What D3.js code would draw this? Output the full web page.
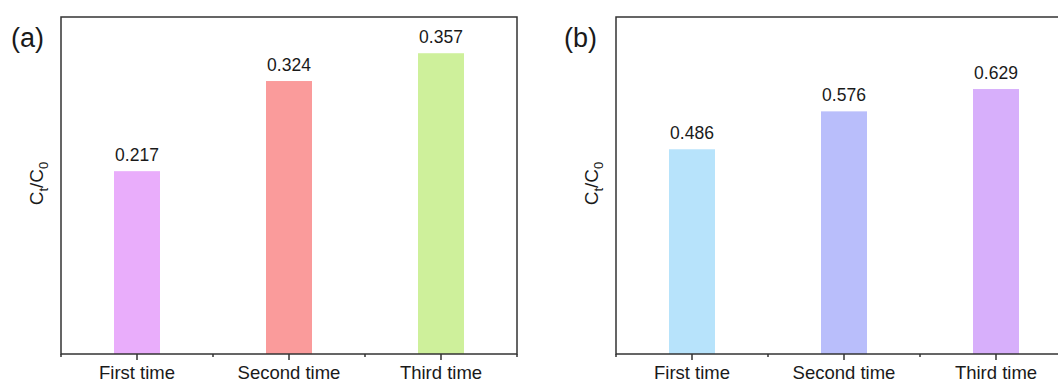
<!DOCTYPE html>
<html>
<head>
<meta charset="utf-8">
<script src="https://cdn.jsdelivr.net/npm/d3@7"></script>
<style>
  body { margin: 0; background: #fff; }
  svg { display: block; font-family: "Liberation Sans", Arial, sans-serif; }
</style>
</head>
<body>
<div id="chart"></div>
<script>
var categories = ["First time", "Second time", "Third time"]
var valuesA = [0.217, 0.324, 0.357]
var valuesB = [0.486, 0.576, 0.629]
var coloursA = ["#e9adfb", "#fa9b9b", "#cef09b"]
var coloursB = ["#b7e3fb", "#b9befb", "#d7affb"]

var svg = d3.select("#chart").append("svg")
  .attr("width", 1058)
  .attr("height", 383)

function drawPanel(opts){
  var width = 456, height = 337
  var g = svg.append("g")
    .attr("transform", "translate(" + opts.left + "," + opts.top + ")")

  var x = d3.scaleBand().domain(categories).range([0, width]).padding(0)
  var y = d3.scaleLinear().domain([0, opts.ymax]).range([height, 0])
  var barW = 46

  g.selectAll(".bar")
    .data(opts.values)
    .enter().append("rect")
    .attr("class", "bar")
    .attr("x", function(d, i){ return x(categories[i]) + x.bandwidth()/2 - barW/2 })
    .attr("width", barW)
    .attr("y", function(d){ return y(d) })
    .attr("height", function(d){ return height - y(d) })
    .attr("fill", function(d, i){ return opts.colours[i] })

  g.selectAll(".val")
    .data(opts.values)
    .enter().append("text")
    .attr("x", function(d, i){ return x(categories[i]) + x.bandwidth()/2 })
    .attr("y", function(d){ return y(d) - 10 })
    .attr("text-anchor", "middle")
    .attr("font-size", "17.5px")
    .attr("fill", "#1a1a1a")
    .text(function(d){ return d.toFixed(3) })

  // frame
  g.append("rect")
    .attr("x", 0).attr("y", 0)
    .attr("width", width).attr("height", height)
    .attr("fill", "none")
    .attr("stroke", "#333")
    .attr("stroke-width", 1.5)

  // bottom axis: major ticks at categories, minor at band edges
  var xAxis = d3.axisBottom(x).tickSize(6).tickPadding(6)
  var ax = g.append("g")
    .attr("transform", "translate(0," + height + ")")
    .call(xAxis)
  ax.select(".domain").remove()
  ax.selectAll("line").attr("stroke", "#333").attr("stroke-width", 1.5)
  ax.selectAll("text")
    .attr("font-size", "18.5px")
    .attr("fill", "#1a1a1a")
    .attr("font-family", "Liberation Sans, Arial, sans-serif")

  var edges = categories.map(function(c){ return x(c) }).concat([width])
  g.selectAll(".minor")
    .data(edges)
    .enter().append("line")
    .attr("class", "minor")
    .attr("x1", function(d){ return d }).attr("x2", function(d){ return d })
    .attr("y1", height).attr("y2", height + 3)
    .attr("stroke", "#333").attr("stroke-width", 1.5)

  // y label
  var yl = g.append("text")
    .attr("transform", "translate(" + (-18) + "," + (height/2 - 2) + ") rotate(-90)")
    .attr("text-anchor", "middle")
    .attr("font-size", "19px")
    .attr("fill", "#1a1a1a")
  yl.append("tspan").text("C")
  yl.append("tspan").attr("dy", 5).attr("font-size", "13px").text("t")
  yl.append("tspan").attr("dy", -5).text("/C")
  yl.append("tspan").attr("dy", 5).attr("font-size", "13px").text("0")

  // panel letter
  svg.append("text")
    .attr("x", opts.letterX)
    .attr("y", 47)
    .attr("font-size", "27px")
    .attr("fill", "#1a1a1a")
    .text(opts.letter)
}

drawPanel({left: 61, top: 17, values: valuesA, colours: coloursA, ymax: 0.4, letter: "(a)", letterX: 11})
drawPanel({left: 616, top: 17, values: valuesB, colours: coloursB, ymax: 0.8, letter: "(b)", letterX: 564})
</script>
</body>
</html>
